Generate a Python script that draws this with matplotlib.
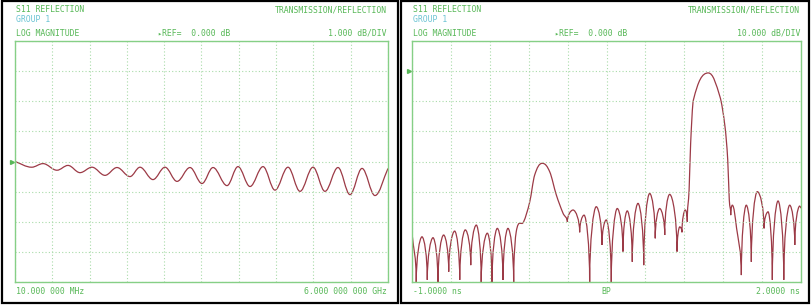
import numpy as np
import matplotlib
matplotlib.use("Agg")
import matplotlib.pyplot as plt
from matplotlib.path import Path
from matplotlib.patches import PathPatch, Rectangle
from matplotlib.transforms import blended_transform_factory

# ---- data read off the two analyser screens ----
# left: S11 log magnitude, 1 dB/div, extrema of the ripple
freq_ghz = [0.010, 0.278, 0.460, 0.684, 0.861, 1.054, 1.247, 1.455, 1.648, 1.857,
            2.017, 2.226, 2.419, 2.612, 2.820, 3.013, 3.190, 3.415, 3.591, 3.784,
            3.993, 4.185, 4.394, 4.587, 4.796, 4.988, 5.197, 5.390, 5.583, 5.791, 6.000]
s11_db = [0.00, -0.19, -0.07, -0.29, -0.13, -0.37, -0.19, -0.46, -0.20, -0.50,
          -0.19, -0.60, -0.19, -0.66, -0.20, -0.73, -0.20, -0.80, -0.17, -0.83,
          -0.17, -0.95, -0.19, -0.99, -0.19, -0.99, -0.20, -1.10, -0.23, -1.13, -0.23]

# right: time domain (bandpass), 10 dB/div
time_ns = [-1.000, -0.967, -0.923, -0.882, -0.838, -0.800, -0.756, -0.717, -0.671, -0.632,
           -0.589, -0.547, -0.504, -0.466, -0.419, -0.383, -0.342, -0.298, -0.260, -0.216,
           -0.196, -0.139, -0.092, -0.054, 0.005, 0.062, 0.113, 0.165, 0.198, 0.242,
           0.293, 0.327, 0.370, 0.421, 0.465, 0.498, 0.537, 0.583, 0.627, 0.660,
           0.699, 0.743, 0.787, 0.833, 0.876, 0.910, 0.949, 0.987, 1.044, 1.065,
           1.082, 1.108, 1.123, 1.137, 1.149, 1.170, 1.285, 1.375, 1.414, 1.435,
           1.447, 1.458, 1.470, 1.503, 1.540, 1.578, 1.617, 1.663, 1.715, 1.746,
           1.779, 1.823, 1.867, 1.913, 1.952, 1.990, 2.000]
tdr_db = [-53.8, -70.0, -55.0, -69.3, -55.3, -70.0, -54.4, -66.6, -53.1, -69.3,
          -52.7, -64.4, -51.1, -70.0, -53.8, -70.0, -52.2, -69.3, -52.2, -70.0,
          -53.3, -50.0, -43.4, -34.5, -30.6, -33.4, -41.1, -47.2, -50.0, -46.1,
          -53.5, -47.8, -70.0, -45.0, -57.7, -49.4, -70.0, -45.6, -59.9, -46.4,
          -63.3, -43.9, -64.4, -40.6, -55.5, -45.6, -54.4, -40.9, -59.9, -51.7,
          -53.5, -46.1, -50.0, -39.5, -23.9, -9.6, -0.6, -8.5, -18.5, -29.5,
          -42.8, -47.8, -44.5, -52.1, -67.7, -44.5, -63.3, -40.0, -52.2, -46.7,
          -69.3, -43.1, -69.3, -44.5, -57.7, -44.8, -45.5]

# header / footer texts
panel_titles = ["S11 REFLECTION", "S11 REFLECTION"]
panel_groups = ["GROUP 1", "GROUP 1"]
panel_formats = ["LOG MAGNITUDE", "LOG MAGNITUDE"]
panel_scales = ["1.000 dB/DIV", "10.000 dB/DIV"]
ref_text = "REF=  0.000 dB"
start_labels = ["10.000 000 MHz", "-1.0000 ns"]
stop_labels = ["6.000 000 000 GHz", "2.0000 ns"]
center_labels = ["", "BP"]

TXT = "#58b858"
CYAN = "#6cc4d4"
FRAME = "#86cf86"
GRID = "#a9dba9"
TRACE = "#9c3a46"

W, H = 812, 307


def trace_path(xs, ys, cusp_minima, k_flat, k_cusp=0.5):
    """Bezier path through the read extrema: flat tops, optional cusp nulls."""
    xs = np.asarray(xs, float)
    ys = np.asarray(ys, float)
    n = len(xs)
    kinds = []
    for i in range(n):
        if i == 0 or i == n - 1:
            kinds.append("chord")
        elif ys[i] >= ys[i - 1] and ys[i] >= ys[i + 1]:
            kinds.append("flat")
        elif ys[i] <= ys[i - 1] and ys[i] <= ys[i + 1]:
            kinds.append("cusp" if cusp_minima else "flat")
        else:
            kinds.append("chord")

    def slope(i):
        a, b = max(i - 1, 0), min(i + 1, n - 1)
        return (ys[b] - ys[a]) / (xs[b] - xs[a])

    verts = [(xs[0], ys[0])]
    codes = [Path.MOVETO]
    for i in range(n - 1):
        j = i + 1
        dx, dy = xs[j] - xs[i], ys[j] - ys[i]
        if kinds[i] == "flat":
            c1 = (xs[i] + k_flat * dx, ys[i])
        elif kinds[i] == "cusp":
            c1 = (xs[i], ys[i] + k_cusp * dy)
        else:
            c1 = (xs[i] + dx / 3, ys[i] + slope(i) * dx / 3)
        if kinds[j] == "flat":
            c2 = (xs[j] - k_flat * dx, ys[j])
        elif kinds[j] == "cusp":
            c2 = (xs[j], ys[j] - k_cusp * dy)
        else:
            c2 = (xs[j] - dx / 3, ys[j] - slope(j) * dx / 3)
        verts += [c1, c2, (xs[j], ys[j])]
        codes += [Path.CURVE4] * 3
    return Path(verts, codes)


def fx(px):
    return px / W


def fy(py):
    return 1 - py / H


fig = plt.figure(figsize=(W / 100, H / 100), dpi=100)
fig.patch.set_facecolor("white")

# black panel borders
for x0, x1 in [(2, 398), (401, 809)]:
    fig.patches.append(Rectangle((fx(x0), fy(303)), fx(x1 - x0), (303 - 1) / H,
                                 transform=fig.transFigure, fill=False,
                                 edgecolor="black", lw=1.6))

panels = [
    dict(left=15, right=388, xlim=(0.01, 6.0), ylim=(-4, 4), ref=0.0,
         x=freq_ghz, y=s11_db, cusp=False, k_flat=0.36),
    dict(left=412, right=801, xlim=(-1.0, 2.0), ylim=(-70, 10), ref=0.0,
         x=time_ns, y=tdr_db, cusp=True, k_flat=0.42),
]

mono = ["DejaVu Sans Mono", "DejaVu Sans"]
fs = 5.9

for k, p in enumerate(panels):
    L, R = p["left"], p["right"]
    ax = fig.add_axes([fx(L), fy(282), fx(R - L), (282 - 41) / H])
    ax.set_xlim(*p["xlim"])
    ax.set_ylim(*p["ylim"])
    ax.set_xticks(np.linspace(p["xlim"][0], p["xlim"][1], 11))
    ax.set_yticks(np.linspace(p["ylim"][0], p["ylim"][1], 9))
    ax.tick_params(length=0, labelbottom=False, labelleft=False)
    ax.grid(True, ls=(0, (1, 2)), color=GRID, lw=0.8)
    for s in ax.spines.values():
        s.set_color(FRAME)
        s.set_linewidth(1.0)

    path = trace_path(p["x"], p["y"], p["cusp"], p["k_flat"], k_cusp=0.55)
    ax.add_patch(PathPatch(path, fill=False, edgecolor=TRACE, lw=0.9))

    # reference-level marker
    tr = blended_transform_factory(ax.transAxes, ax.transData)
    ax.plot([-3.5 / (R - L)], [p["ref"]], marker=">", ms=2.8, color=TXT,
            transform=tr, clip_on=False)

    tx = L + 1
    fig.text(fx(tx), fy(9.7), panel_titles[k], color=TXT, fontsize=fs,
             family=mono, va="center", ha="left")
    fig.text(fx(R - 1), fy(9.7), "TRANSMISSION/REFLECTION", color=TXT, fontsize=fs,
             family=mono, va="center", ha="right")
    fig.text(fx(tx), fy(19.3), panel_groups[k], color=CYAN, fontsize=fs,
             family=mono, va="center", ha="left")
    fig.text(fx(tx), fy(33.3), panel_formats[k], color=TXT, fontsize=fs,
             family=mono, va="center", ha="left")
    fig.text(fx(L + 142), fy(33.3), "\u25b8", color=TXT, fontsize=fs - 1,
             family=mono, va="center", ha="left")
    fig.text(fx(L + 147), fy(33.3), ref_text, color=TXT, fontsize=fs,
             family=mono, va="center", ha="left")
    fig.text(fx(R - 1), fy(33.3), panel_scales[k], color=TXT, fontsize=fs,
             family=mono, va="center", ha="right")
    fig.text(fx(tx), fy(291.7), start_labels[k], color=TXT, fontsize=fs,
             family=mono, va="center", ha="left")
    fig.text(fx(R - 1), fy(291.7), stop_labels[k], color=TXT, fontsize=fs,
             family=mono, va="center", ha="right")
    if center_labels[k]:
        fig.text(fx((L + R) / 2), fy(291.7), center_labels[k], color=TXT,
                 fontsize=fs, family=mono, va="center", ha="center")

fig.savefig("out.png", dpi=100)
